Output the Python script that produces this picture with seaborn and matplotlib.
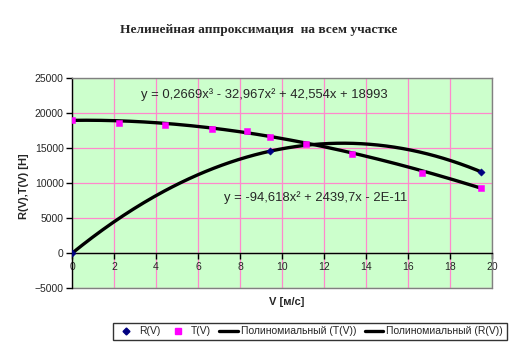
import numpy as np
import pandas as pd
import matplotlib
matplotlib.use("Agg")
import matplotlib.pyplot as plt
import seaborn as sns
from matplotlib.lines import Line2D

# ---- data ----
v_R = [0.0, 9.44, 19.44]
R_vals = [0, 14600, 11670]
v_T = [0.0, 2.22, 4.44, 6.67, 8.33, 9.44, 11.11, 13.33, 16.67, 19.44]
T_vals = [19000, 18670, 18390, 17810, 17430, 16610, 15670, 14240, 11530, 9390]
# trendline coefficients as printed in the chart (highest power first)
coef_T = [0.2669, -32.967, 42.554, 18993]
coef_R = [-94.618, 2439.7, 0.0]
x_ticks = [0, 2, 4, 6, 8, 10, 12, 14, 16, 18, 20]
y_ticks = [-5000, 0, 5000, 10000, 15000, 20000, 25000]
title = "Нелинейная аппроксимация  на всем участке"
xlabel = "V [м/с]"
ylabel = "R(V),T(V) [H]"
eq_T = "y = 0,2669x³ - 32,967x² + 42,554x + 18993"
eq_R = "y = -94,618x² + 2439,7x - 2E-11"
legend_labels = ["R(V)", "T(V)", "Полиномиальный (T(V))", "Полиномиальный (R(V))"]

sns.set_style("white")
plt.rcParams["font.family"] = ["Liberation Sans", "DejaVu Sans"]

fig = plt.figure(figsize=(5.13, 3.46), dpi=100)
ax = fig.add_axes([0.1404, 0.1668, 0.9597 - 0.1404, 0.7737 - 0.1668])
ax.set_facecolor("#CCFFCC")

# trendlines
xs = np.linspace(0, max(v_T), 200)
dfT = pd.DataFrame({"V": xs, "y": np.polyval(coef_T, xs)})
dfR = pd.DataFrame({"V": xs, "y": np.polyval(coef_R, xs)})
sns.lineplot(data=dfT, x="V", y="y", ax=ax, color="black", lw=2.4, zorder=3)
sns.lineplot(data=dfR, x="V", y="y", ax=ax, color="black", lw=2.4, zorder=3)

# points
sns.scatterplot(x=v_T, y=T_vals, ax=ax, marker="s", color="#FF00FF", s=22,
                edgecolor="#FF00FF", zorder=4)
sns.scatterplot(x=v_R, y=R_vals, ax=ax, marker="D", color="#000080", s=14,
                edgecolor="#000080", zorder=5)

ax.set_xlim(0, 20)
ax.set_ylim(-5000, 25000)
ax.set_xticks(x_ticks)
ax.set_yticks(y_ticks)
ax.grid(True, color="#FF88CC", lw=0.9)
ax.set_axisbelow(True)

for s in ["top", "right"]:
    ax.spines[s].set_color("#808080")
    ax.spines[s].set_linewidth(1.0)
ax.spines["left"].set_color("black")
ax.spines["left"].set_linewidth(1.0)
ax.spines["bottom"].set_position(("data", 0))
ax.spines["bottom"].set_color("black")
ax.spines["bottom"].set_linewidth(1.0)
ax.spines["bottom"].set_zorder(2.5)
ax.axhline(-5000, color="#808080", lw=1.0, clip_on=False, zorder=2)

ax.tick_params(axis="both", direction="out", length=4, width=1, color="black",
               labelsize=7.5, pad=2, left=True, bottom=True)
ax.set_xlabel("")
ax.set_ylabel("")

fig.text(24 / 513, 1 - 186 / 346, ylabel, rotation=90, ha="center",
         va="center", fontsize=8, fontweight="bold")
fig.text(287 / 513, 1 - 302 / 346, xlabel, ha="center", va="center",
         fontsize=8, fontweight="bold")
fig.text(259 / 513, 1 - 30 / 346, title, ha="center", va="center",
         fontsize=9.6, fontweight="bold",
         family=["Liberation Serif", "DejaVu Serif"])

fig.text(141 / 513, 1 - 95 / 346, eq_T, ha="left", va="center", fontsize=9.4)
fig.text(224 / 513, 1 - 198 / 346, eq_R, ha="left", va="center", fontsize=9.4)

handles = [
    Line2D([], [], ls="none", marker="D", color="#000080", markersize=3.5),
    Line2D([], [], ls="none", marker="s", color="#FF00FF", markersize=4.5),
    Line2D([], [], color="black", lw=2.4),
    Line2D([], [], color="black", lw=2.4),
]
leg = fig.legend(handles, legend_labels, ncol=4, loc="center",
                 bbox_to_anchor=(310 / 513, 1 - 331.5 / 346), fontsize=7.5,
                 frameon=True, fancybox=False, edgecolor="black",
                 handlelength=1.8, handletextpad=0.3, columnspacing=0.8,
                 borderpad=0.35)
leg.get_frame().set_linewidth(1.0)

fig.savefig("out.png", dpi=100, facecolor="white")
